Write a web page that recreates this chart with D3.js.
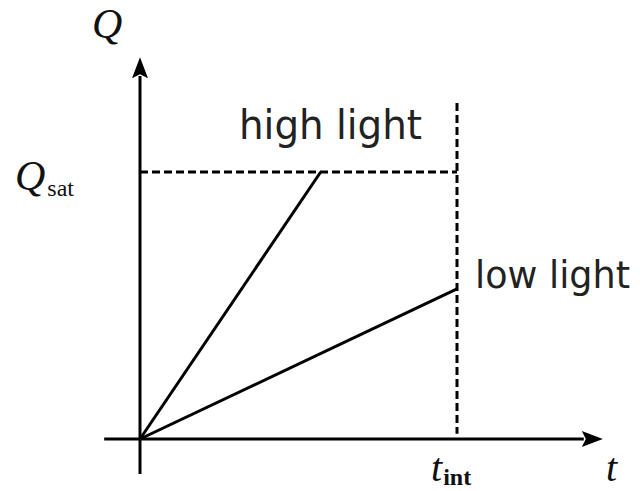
<!DOCTYPE html>
<html><head><meta charset="utf-8">
<script src="https://cdn.jsdelivr.net/npm/d3@7"></script>
<style>body{margin:0;background:#fff}svg{display:block}</style>
</head><body>
<script>
// Data
const tHigh = [0, 0.57];
const qHigh = [0, 1];
const tLow = [0, 1];
const qLow = [0, 0.562];
const qSat = 1;
const tInt = 1;
const seriesLabels = ["high light", "low light"];

const W = 640, H = 491;
const svg = d3.select("body").append("svg").attr("width", W).attr("height", H);
const x = d3.scaleLinear().domain([0, 1]).range([140, 457]);
const y = d3.scaleLinear().domain([0, 1]).range([439, 172]);
const ink = "#000";

// dashed guides
svg.append("line").attr("x1", x(0)).attr("x2", x(tInt)).attr("y1", y(qSat)).attr("y2", y(qSat))
  .attr("stroke", ink).attr("stroke-width", 3).attr("stroke-dasharray", "8,4");
svg.append("line").attr("x1", x(tInt)).attr("x2", x(tInt)).attr("y1", y(1.258)).attr("y2", y(0.02))
  .attr("stroke", ink).attr("stroke-width", 3).attr("stroke-dasharray", "8,4");

// axes
svg.append("line").attr("x1", x(-0.113)).attr("x2", x(1.40)).attr("y1", y(0)).attr("y2", y(0))
  .attr("stroke", ink).attr("stroke-width", 3);
svg.append("line").attr("x1", x(0)).attr("x2", x(0)).attr("y1", y(-0.131)).attr("y2", y(1.36))
  .attr("stroke", ink).attr("stroke-width", 3);
// arrowheads
const xt = x(1.46), yo = y(0);
svg.append("path").attr("d", `M${xt},${yo} L${xt-21},${yo-8} L${xt-17},${yo} L${xt-21},${yo+8} Z`).attr("fill", ink);
const yt = y(1.43), xo = x(0);
svg.append("path").attr("d", `M${xo},${yt} L${xo-8},${yt+21} L${xo},${yt+17} L${xo+8},${yt+21} Z`).attr("fill", ink);

// series lines
const line = d3.line().x(d => x(d[0])).y(d => y(d[1]));
svg.append("path").attr("d", line(tHigh.map((t, i) => [t, qHigh[i]])))
  .attr("fill", "none").attr("stroke", ink).attr("stroke-width", 3);
svg.append("path").attr("d", line(tLow.map((t, i) => [t, qLow[i]])))
  .attr("fill", "none").attr("stroke", ink).attr("stroke-width", 3);

// labels
const serif = "'Liberation Serif','DejaVu Serif',serif";
const sans = "'DejaVu Sans','Liberation Sans',sans-serif";
svg.append("text").attr("x", 92).attr("y", 38).attr("font-family", serif).attr("font-style", "italic")
  .attr("font-size", 42).attr("fill", "#111").text("Q");
const qs = svg.append("text").attr("x", 15).attr("y", 190).attr("font-family", serif).attr("fill", "#111");
qs.append("tspan").attr("font-style", "italic").attr("font-size", 42).text("Q");
qs.append("tspan").attr("font-size", 24).attr("dx", 2).attr("dy", 6).text("sat");

const ti = svg.append("text").attr("x", 431).attr("y", 481).attr("font-family", serif).attr("fill", "#111");
ti.append("tspan").attr("font-style", "italic").attr("font-size", 40).text("t");
ti.append("tspan").attr("font-size", 24).attr("font-weight", "bold").attr("dx", 1).attr("dy", 4).text("int");
svg.append("text").attr("x", 606).attr("y", 481).attr("font-family", serif).attr("font-style", "italic")
  .attr("font-size", 40).attr("fill", "#111").text("t");

svg.append("text").attr("x", 239).attr("y", 139).attr("font-family", sans).attr("font-size", 40)
  .attr("fill", "#222").attr("textLength", 183).attr("lengthAdjust", "spacingAndGlyphs").text(seriesLabels[0]);
svg.append("text").attr("x", 475).attr("y", 288).attr("font-family", sans).attr("font-size", 37)
  .attr("fill", "#222").attr("textLength", 155).attr("lengthAdjust", "spacingAndGlyphs").text(seriesLabels[1]);
</script>
</body></html>
